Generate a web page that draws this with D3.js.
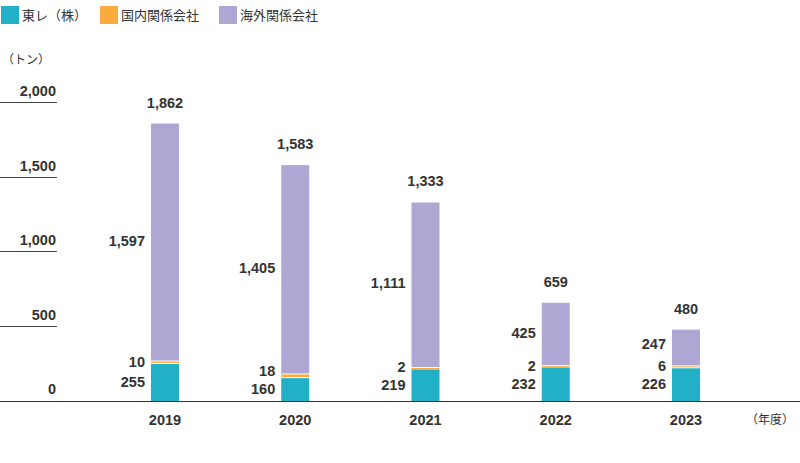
<!DOCTYPE html>
<html><head><meta charset="utf-8">
<script src="https://cdn.jsdelivr.net/npm/d3@7/dist/d3.min.js"></script>
<style>
html,body{margin:0;padding:0;background:#fff;}
svg{display:block;}
</style></head>
<body><svg id="c" width="800" height="463"></svg>
<script>
const years = ["2019","2020","2021","2022","2023"];
const toray = [255,160,219,232,226];
const domestic = [10,18,2,2,6];
const overseas = [1597,1405,1111,425,247];
const totals = [1862,1583,1333,659,480];
const yTicks = [0,500,1000,1500,2000];
const seriesNames = ["東レ（株）","国内関係会社","海外関係会社"];
const seriesColors = ["#22b0c7","#f9ab3d","#aea7d3"];
const unitLabel = "（トン）";
const yearUnit = "（年度）";

const svg = d3.select("#c");
const numFont = "'Liberation Sans', Arial, Helvetica, sans-serif";
const jpFont = "'Noto Sans CJK JP', sans-serif";
const fmt = d3.format(",");
const txt = "#333";

const x = d3.scalePoint().domain(years).range([165, 686]);
const y = d3.scaleLinear().domain([0, 2000]).range([401, 103]);
const barW = 28;

// legend
const lx = [1, 100, 219];
seriesNames.forEach((n, i) => {
  svg.append("rect").attr("x", lx[i]).attr("y", 6).attr("width", 18).attr("height", 18).attr("fill", seriesColors[i]);
  svg.append("text").attr("x", lx[i] + 21).attr("y", 15).attr("dy", "0.35em")
    .attr("font-family", jpFont).attr("font-size", 13).attr("fill", txt).text(n);
});

// unit label
svg.append("text").attr("x", 2).attr("y", 60).attr("dy", "0.35em")
  .attr("font-family", jpFont).attr("font-size", 12).attr("fill", txt).text(unitLabel);

// y gridlines + labels
yTicks.forEach(t => {
  if (t > 0) {
    svg.append("line").attr("x1", 0).attr("x2", 57).attr("y1", Math.round(y(t)) - 0.5).attr("y2", Math.round(y(t)) - 0.5)
      .attr("stroke", "#444").attr("stroke-width", 1);
  }
  svg.append("text").attr("x", 56).attr("y", y(t) - 12).attr("dy", "0.35em").attr("text-anchor", "end")
    .attr("font-family", numFont).attr("font-weight", "bold").attr("font-size", 14.5).attr("fill", txt)
    .text(fmt(t));
});

// bars
const stackData = years.map((yr, i) => ({ yr, toray: toray[i], domestic: domestic[i], overseas: overseas[i] }));
const keys = ["toray", "domestic", "overseas"];
const stacked = d3.stack().keys(keys)(stackData);

stacked.forEach((layer, li) => {
  svg.append("g").selectAll("rect").data(layer).join("rect")
    .attr("x", d => x(d.data.yr) - barW / 2)
    .attr("width", barW)
    .attr("y", d => {
      let top = y(d[1]);
      if (li === 0) top += 1;
      return top;
    })
    .attr("height", d => {
      let top = y(d[1]), bot = y(d[0]);
      if (li === 0) top += 1;
      if (li === 2) bot -= 1;
      return Math.max(bot - top, li === 1 ? 1 : 0);
    })
    .attr("fill", seriesColors[li]);
});

// segment labels
const lab = (xx, yy, t) => svg.append("text").attr("x", xx).attr("y", yy).attr("dy", "0.35em")
  .attr("text-anchor", "end").attr("font-family", numFont).attr("font-weight", "bold")
  .attr("font-size", 14.5).attr("fill", txt).text(t);

years.forEach((yr, i) => {
  const lx0 = x(yr) - barW / 2 - 6;
  const s0 = stacked[0][i], s1 = stacked[1][i], s2 = stacked[2][i];
  const ty = (y(s0[0]) + y(s0[1])) / 2;
  const dy = Math.min((y(s1[0]) + y(s1[1])) / 2, ty - 18);
  const oy = Math.min((y(s2[0]) + y(s2[1])) / 2, dy - 20) - 2;
  lab(lx0, ty, fmt(toray[i]));
  lab(lx0, dy, fmt(domestic[i]));
  lab(lx0, oy, fmt(overseas[i]));
  svg.append("text").attr("x", x(yr)).attr("y", y(totals[i]) - 21).attr("dy", "0.35em")
    .attr("text-anchor", "middle").attr("font-family", numFont).attr("font-weight", "bold")
    .attr("font-size", 14.5).attr("fill", txt).text(fmt(totals[i]));
  svg.append("text").attr("x", x(yr)).attr("y", 420).attr("dy", "0.35em")
    .attr("text-anchor", "middle").attr("font-family", numFont).attr("font-weight", "bold")
    .attr("font-size", 14.5).attr("fill", txt).text(yr);
});

// baseline
svg.append("line").attr("x1", 0).attr("x2", 800).attr("y1", y(0) + 0.5).attr("y2", y(0) + 0.5)
  .attr("stroke", "#333").attr("stroke-width", 1);

svg.append("text").attr("x", 770).attr("y", 420).attr("dy", "0.35em").attr("text-anchor", "middle")
  .attr("font-family", jpFont).attr("font-size", 12).attr("fill", txt).text(yearUnit);
</script></body></html>
